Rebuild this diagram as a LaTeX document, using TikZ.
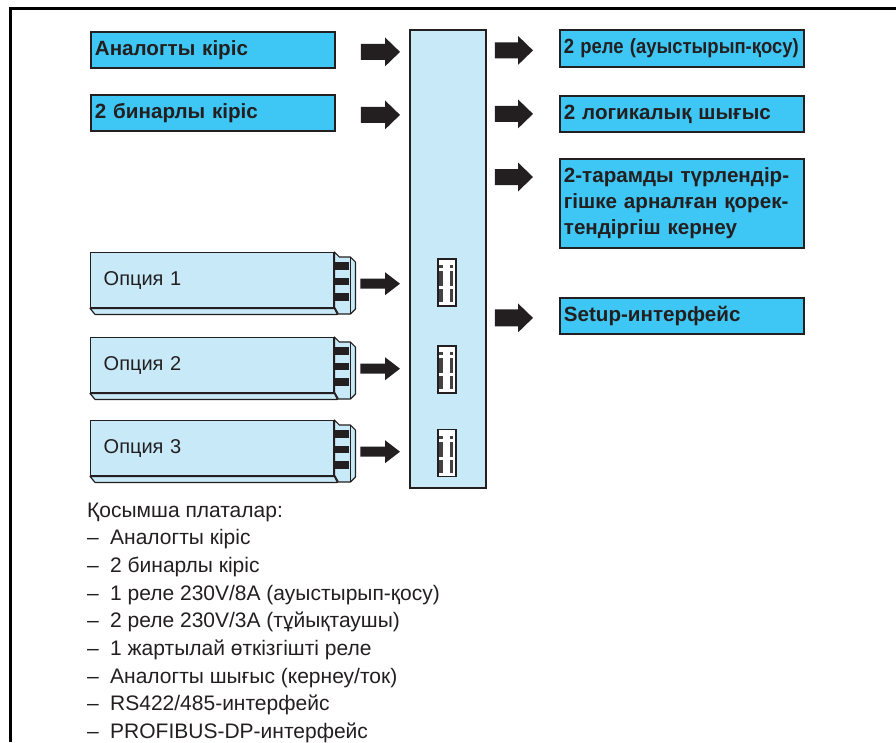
\documentclass[tikz,border=0pt]{standalone}
\usepackage{fontspec}
\setmainfont{Liberation Sans}
\usetikzlibrary{calc}
\definecolor{ink}{HTML}{231F20}
\definecolor{cyanbox}{HTML}{3EC7F4}
\definecolor{paleblue}{HTML}{C7E9F8}

\tikzset{
  headbox/.style={draw=ink, line width=1.8pt, fill=cyanbox, text=ink,
    font=\bfseries\fontsize{20.6}{26}\selectfont, anchor=north west,
    inner xsep=4pt, inner ysep=0pt, text width=236pt, align=left,
    minimum height=36pt},
  optbox/.style={draw=ink, line width=1.4pt, fill=paleblue, text=ink,
    font=\fontsize{20}{24}\selectfont, anchor=north west,
    inner xsep=13pt, inner ysep=0pt, text width=217pt, align=left,
    minimum height=55pt},
  busbox/.style={draw=ink, line width=1.8pt, fill=paleblue, anchor=north west,
    minimum width=76pt, minimum height=458pt, inner sep=0pt},
  slotbox/.style={draw=ink, line width=1.6pt, fill=white,
    minimum width=18pt, minimum height=47pt, inner sep=0pt},
  listline/.style={font=\fontsize{21}{26}\selectfont, text=ink,
    anchor=base west, inner sep=0pt},
  % thick block arrow: start gap, end gap, half body, half head
  blockarrow/.style n args={4}{fill=ink, draw=none,
    to path={let \p1=(\tikztostart), \p2=(\tikztotarget) in
      (\x1+#1,\y1+#3) -- (\x2-#2-15pt,\y1+#3) -- (\x2-#2-15pt,\y1+#4)
      -- (\x2-#2,\y1) -- (\x2-#2-15pt,\y1-#4) -- (\x2-#2-15pt,\y1-#3)
      -- (\x1+#1,\y1-#3) -- cycle}},
}

% plug-in card with its depth face and edge connector
\newcommand\optcard[3]{%
  \node[optbox] (#1) at (90,#2) {#3};
  \draw[ink, line width=1.2pt, fill=paleblue, line join=round]
    (#1.south west) -- ++(5,6) -- ($(#1.south east)+(3,6)$)
    -- (#1.south east) -- cycle;
  \begin{scope}[shift={(#1.north east)}]
    \draw[ink, line width=1.2pt, fill=paleblue, line join=round]
      (0,0) -- (5,5) -- (16,5) -- (21,10) -- (21,57) -- (16,62)
      -- (4,62) -- (0,55) -- cycle;
    \draw[ink, line width=1pt] (16,5) -- (16,62);
    \fill[ink] (1,10) rectangle (15,18);
    \fill[ink] (1,26) rectangle (15,33);
    \fill[ink] (1,41) rectangle (15,49);
  \end{scope}
  \coordinate (#1plug) at ($(#1.east)+(21,3.5)$);
}

% socket on the base board
\newcommand\socket[2]{%
  \node[slotbox] (#1) at (447,#2) {};
  \begin{scope}[shift={(#1.north west)}]
    \foreach \a/\b in {7/10, 13/28, 31/44} {
      \fill[ink!85] (2,\a) rectangle (5.5,\b);
      \fill[ink!85] (12.5,\a) rectangle (16,\b);
    }
  \end{scope}
}

\begin{document}
\begin{tikzpicture}[x=1pt,y=-1pt]
\useasboundingbox (0,0) rectangle (896,742);

% outer frame (open to the right and bottom)
\draw[black, line width=3pt] (896,8) -- (10,8) -- (10,742);

% base board
\node[busbox] (bus) at (409,29) {};

% inputs on the base board
\node[headbox] (ain) at (90,31) {Аналогты кіріс};
\node[headbox] (bin) at (90,94) {2 бинарлы кіріс};

% outputs of the base board
\node[headbox, minimum height=37pt] (rel) at (559,29)
  {\resizebox{235pt}{\height}{2 реле (ауыстырып-қосу)}};
\node[headbox] (lout) at (559,95) {2 логикалық шығыс};
\node[headbox, minimum height=89pt] (pwr) at (559,158)
  {2-тарамды түрлендір-\\гішке арналған қорек-\\тендіргіш кернеу};
\node[headbox] (setup) at (559,297) {Setup-интерфейс};

% option cards and sockets
\optcard{opt1}{252}{Опция 1}
\optcard{opt2}{337}{Опция 2}
\optcard{opt3}{420}{Опция 3}
\socket{slot1}{282.5}
\socket{slot2}{369.5}
\socket{slot3}{453}

% arrows into the base board
\path[blockarrow={25pt}{9pt}{8pt}{14.5pt}] ($(ain.east)+(0,2)$) to ($(ain.east -| bus.west)+(0,2)$);
\path[blockarrow={25pt}{9pt}{8pt}{14.5pt}] ($(bin.east)+(0,2)$) to ($(bin.east -| bus.west)+(0,2)$);
\foreach \o in {opt1,opt2,opt3}
  \path[blockarrow={5pt}{9pt}{5pt}{11.5pt}] (\o plug) to (\o plug -| bus.west);

% arrows out of the base board
\coordinate (pwrin) at ($(pwr.north west)+(0,19)$);
\path[blockarrow={8pt}{26pt}{8pt}{14.5pt}] ($(bus.east |- rel.west)+(0,2)$) to ($(rel.west)+(0,2)$);
\path[blockarrow={8pt}{26pt}{8pt}{14.5pt}] (bus.east |- lout.west) to (lout.west);
\path[blockarrow={8pt}{26pt}{8pt}{14.5pt}] (bus.east |- pwrin) to (pwrin);
\path[blockarrow={8pt}{26pt}{8.5pt}{14.5pt}] ($(bus.east |- setup.west)+(0,2)$) to ($(setup.west)+(0,2)$);

% list of available cards
\foreach \t [count=\i] in {
  {Қосымша платалар:},
  {\makebox[23pt][l]{–}Аналогты кіріс},
  {\makebox[23pt][l]{–}2 бинарлы кіріс},
  {\makebox[23pt][l]{–}1 реле 230V/8A (ауыстырып-қосу)},
  {\makebox[23pt][l]{–}2 реле 230V/3A (тұйықтаушы)},
  {\makebox[23pt][l]{–}1 жартылай өткізгішті реле},
  {\makebox[23pt][l]{–}Аналогты шығыс (кернеу/ток)},
  {\makebox[23pt][l]{–}RS422/485-интерфейс},
  {\makebox[23pt][l]{–}PROFIBUS-DP-интерфейс}}
  \node[listline] (note\i) at (87,{517+27.7*(\i-1)}) {\t};

\end{tikzpicture}
\end{document}
